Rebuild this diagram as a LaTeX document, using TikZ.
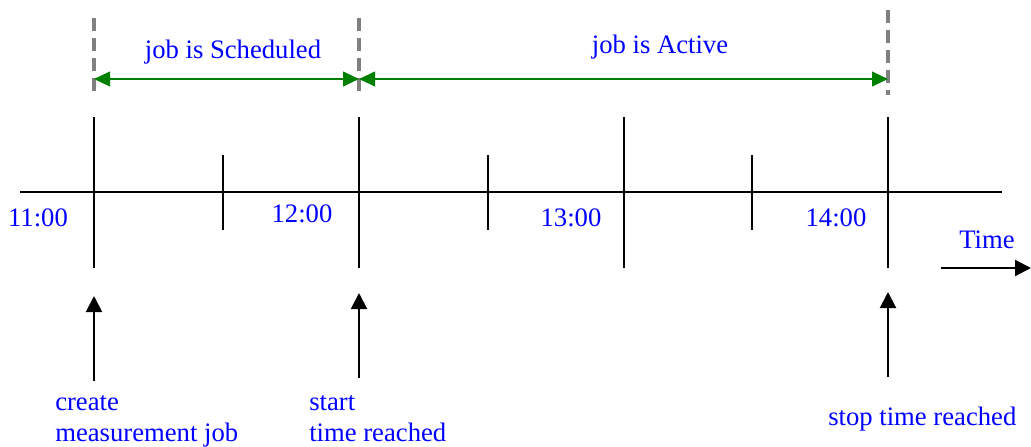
\documentclass[tikz,border=0pt]{standalone}
\usepackage{fontspec}
\setmainfont{Liberation Serif}
\usetikzlibrary{positioning,arrows.meta}
\definecolor{lblblue}{RGB}{0,0,255}
\definecolor{spangreen}{RGB}{0,128,0}

\begin{document}
\begin{tikzpicture}[x=0.75pt,y=-0.75pt,
		lbl/.style={text=lblblue,font=\fontsize{20}{23.5}\selectfont,inner sep=0pt},
		spanarrow/.style={draw=spangreen,line width=1.5pt,{Triangle[length=12pt,width=11pt]}-{Triangle[length=12pt,width=11pt]}},
		guide/.style={draw=black!50,line width=2.4pt,dash pattern=on 10pt off 5pt},
		hourtick/.style={line width=1.3pt},
		evt/.style={line width=1.5pt,-{Triangle[length=12pt,width=12pt]}}]
	\useasboundingbox (0,0) rectangle (1031,446);
	
	% time axis
	\coordinate (axL) at (20,192);
	\coordinate (axR) at (1002,192);
	\draw[hourtick] (axL) -- (axR);
	\foreach \x/\nm in {94/a,359/b,624/c,888/d} {
		\coordinate (top\nm) at (\x,117);
		\coordinate (bot\nm) at (\x,268);
		\draw[hourtick] (top\nm) -- (bot\nm);
	}
	\foreach \x in {223,488,752} { \draw[hourtick] (\x,155) -- (\x,230); }
	
	\node[lbl] (h11) at (38,218) {11:00};
	\node[lbl] (h12) at (302,214) {12:00};
	\node[lbl] (h13) at (571,218) {13:00};
	\node[lbl] (h14) at (836,218) {14:00};
	
	% guides and spans
	\coordinate (gA) at (94,18);   \coordinate (sA) at (94,79);   \coordinate (eA) at (94,95);
	\coordinate (gB) at (359,18);  \coordinate (sB) at (359,79);  \coordinate (eB) at (359,95);
	\coordinate (gD) at (888,10);  \coordinate (sD) at (888,79);  \coordinate (eD) at (888,95);
	\draw[guide] (gA) -- (eA);
	\draw[guide] (gB) -- (eB);
	\draw[guide] (gD) -- (eD);
	\draw[spanarrow] (sA) -- (sB);
	\draw[spanarrow] (sB) -- (sD);
	\node[lbl] (sched) at (233,52) {job is Scheduled};
	\node[lbl] (active) at (660,47) {job is Active};
	
	% time direction
	\node[lbl] (time) at (987,240) {Time};
	\coordinate (tL) at (941,268);
	\coordinate (tR) at (1031,268);
	\draw[evt] (tL) -- (tR);
	
	% events
	\node[lbl,anchor=north west,align=left] (create) at (55,395) {create\\measurement job};
	\node[lbl,anchor=north west,align=left] (start) at (309,395) {start\\time reached};
	\node[lbl,anchor=north west] (stop) at (828,407) {stop time reached};
	\draw[evt] (94,381) -- (94,296);
	\draw[evt] (359,378) -- (359,293);
	\draw[evt] (888,377) -- (888,292);
\end{tikzpicture}
\end{document}
